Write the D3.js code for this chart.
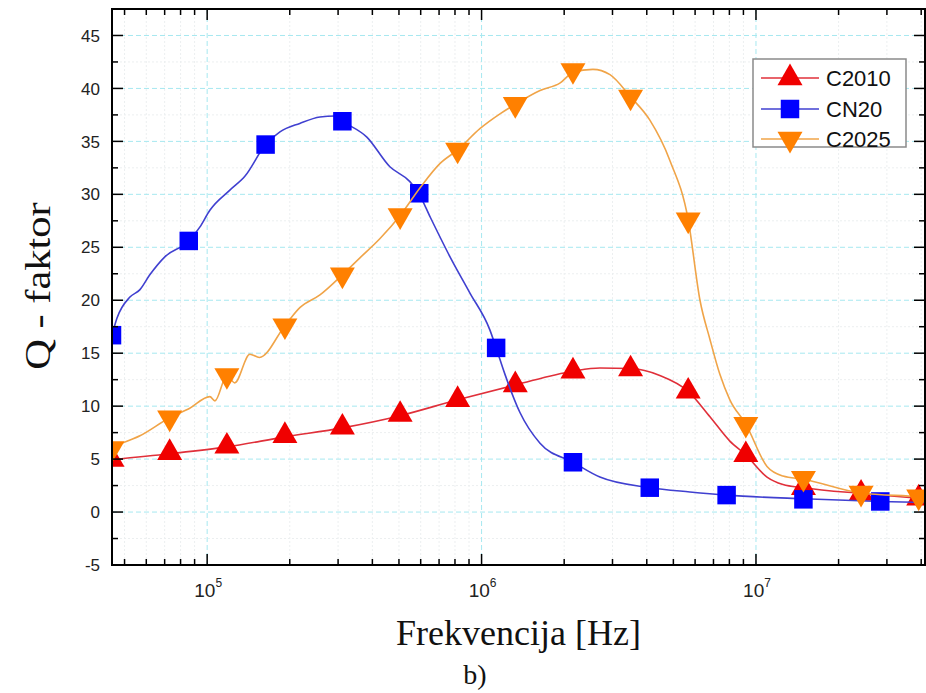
<!DOCTYPE html>
<html><head><meta charset="utf-8">
<script src="https://cdn.jsdelivr.net/npm/d3@7"></script>
<style>body{margin:0;background:#fff} svg{display:block}</style>
</head><body>
<script>
// ---------- data (frequency in Hz, Q-factor) ----------
const seriesNames = ["C2010", "CN20", "C2025"];

const markerFreqRO = [45000, 73000, 118000, 192000, 311000, 505000, 818000, 1327000, 2153000, 3491000, 5662000, 9183000, 14890000, 24150000, 39170000];
const c2010Markers = [4.95, 5.6, 6.2, 7.2, 8.0, 9.2, 10.6, 12.0, 13.3, 13.5, 11.4, 5.4, 2.3, 1.75, 1.3];
const c2025Markers = [6.0, 8.9, 12.9, 17.6, 22.4, 28.0, 34.2, 38.5, 41.7, 39.2, 27.6, 8.3, 3.2, 1.8, 1.45];

const markerFreqB = [45000, 85700, 163300, 311000, 592900, 1130000, 2153000, 4102000, 7816000, 14890000, 28380000];
const cn20Markers = [16.7, 25.6, 34.7, 36.9, 30.1, 15.5, 4.7, 2.3, 1.6, 1.2, 1.0];

const c2010Line = [[45000,4.95],[73000,5.5],[118000,6.15],[192000,7.1],[311000,7.95],[505000,9.1],[818000,10.6],[1327000,12.0],[2153000,13.3],[2699000,13.6],[3491000,13.55],[4463000,12.9],[5662000,11.4],[6797000,9.0],[8031000,6.7],[9183000,5.4],[10970000,3.3],[12540000,2.6],[14890000,2.3],[24150000,1.75],[39170000,1.3],[41300000,1.25]];
const cn20Line = [[45000,16.7],[46900,18.3],[52300,20.3],[56900,21.0],[61800,22.4],[70100,24.1],[85700,25.6],[94000,26.9],[102300,28.5],[121000,30.4],[137200,31.7],[163300,34.7],[184200,35.9],[217600,36.7],[257600,37.3],[292100,37.4],[311000,36.9],[381900,35.4],[463300,32.6],[548000,31.2],[592900,30.0],[648600,27.9],[767400,24.1],[906000,20.7],[1072000,17.2],[1130000,15.5],[1217000,13.0],[1380000,9.4],[1633000,6.5],[2153000,4.7],[2699000,3.3],[4102000,2.3],[5744000,1.9],[7816000,1.6],[14890000,1.25],[28380000,1.0],[41300000,0.9]];
const c2025Line = [[45000,6.0],[48100,6.4],[56900,7.2],[73000,8.9],[86400,9.8],[102300,10.9],[106700,10.5],[118000,12.9],[126000,12.2],[143100,14.9],[155000,14.6],[192000,17.6],[217600,19.3],[257600,20.5],[311000,22.4],[360300,24.0],[425700,25.8],[505000,28.0],[596000,30.6],[704700,32.9],[818000,34.2],[986000,36.2],[1167000,37.6],[1327000,38.5],[1633000,39.8],[1929000,40.5],[2153000,41.5],[2545000,41.8],[2937000,41.3],[3491000,39.2],[4105000,37.0],[4855000,33.2],[5662000,27.6],[6250000,20.0],[6797000,16.3],[7386000,13.0],[8031000,10.6],[9183000,8.3],[10970000,4.3],[12540000,3.4],[14890000,3.1],[24150000,1.8],[39170000,1.45],[41300000,1.4]];

const yTickValues = [-5, 0, 5, 10, 15, 20, 25, 30, 35, 40, 45];
const yMinorValues = [-2.5, 2.5, 7.5, 12.5, 17.5, 22.5, 27.5, 32.5, 37.5, 42.5];
const xDecades = [1e5, 1e6, 1e7];
const xTickExponents = ["5", "6", "7"];
const xLabel = "Frekvencija [Hz]";
const yLabel = "Q - faktor";
const subLabel = "b)";

// ---------- layout ----------
const W = 926, H = 693;
const L = 112, R = 925, T = 9, B = 565;
const x = d3.scaleLog().domain([45000, 41300000]).range([L, R]);
const y = d3.scaleLinear().domain([-5, 47.5]).range([B, T]);

const colors = {
  C2010: {line: "#e0303a", fill: "#f00000"},
  CN20:  {line: "#4040d0", fill: "#0000ff"},
  C2025: {line: "#f0a448", fill: "#ff8000"}
};

const svg = d3.select("body").append("svg").attr("width", W).attr("height", H);

svg.append("clipPath").attr("id", "clip").append("rect")
  .attr("x", L).attr("y", T).attr("width", R - L).attr("height", B - T);

const xMinor = [];
[1e4, 1e5, 1e6, 1e7].forEach(d => { for (let m = 2; m <= 9; m++) { const f = m * d; if (f >= 45000 && f <= 41300000) xMinor.push(f); } });

// faint minor grid
const grid = svg.append("g");
grid.selectAll(".gxm").data(xMinor).join("line")
  .attr("x1", d => x(d)).attr("x2", d => x(d)).attr("y1", T).attr("y2", B)
  .attr("stroke", "#eceff0").attr("stroke-width", 1).attr("stroke-dasharray", "2,2");
grid.selectAll(".gym").data(yMinorValues).join("line")
  .attr("x1", L).attr("x2", R).attr("y1", d => y(d)).attr("y2", d => y(d))
  .attr("stroke", "#eceff0").attr("stroke-width", 1).attr("stroke-dasharray", "2,2");
// major grid
grid.selectAll(".gx").data(xDecades).join("line")
  .attr("x1", d => x(d)).attr("x2", d => x(d)).attr("y1", T).attr("y2", B)
  .attr("stroke", "#a6e8f0").attr("stroke-width", 1).attr("stroke-dasharray", "5,3");
grid.selectAll(".gy").data(yTickValues.filter(v => v > -5)).join("line")
  .attr("x1", L).attr("x2", R).attr("y1", d => y(d)).attr("y2", d => y(d))
  .attr("stroke", "#a6e8f0").attr("stroke-width", 1).attr("stroke-dasharray", "5,3");

// ---------- series ----------
const plot = svg.append("g").attr("clip-path", "url(#clip)");
const lineGen = d3.line().x(d => x(d[0])).y(d => y(d[1])).curve(d3.curveMonotoneX);

const s = 25, h = s * Math.sqrt(3) / 2;
const upTri = `M0,${-2*h/3}L${s/2},${h/3}L${-s/2},${h/3}Z`;
const downTri = `M0,${2*h/3}L${s/2},${-h/3}L${-s/2},${-h/3}Z`;
const sq = 18.5;
const squarePath = `M${-sq/2},${-sq/2}h${sq}v${sq}h${-sq}Z`;
const shapes = {C2010: upTri, CN20: squarePath, C2025: downTri};

const series = [
  {name: "C2010", line: c2010Line, freqs: markerFreqRO, vals: c2010Markers},
  {name: "CN20", line: cn20Line, freqs: markerFreqB, vals: cn20Markers},
  {name: "C2025", line: c2025Line, freqs: markerFreqRO, vals: c2025Markers}
];

series.forEach(sr => {
  plot.append("path").datum(sr.line)
    .attr("d", lineGen).attr("fill", "none")
    .attr("stroke", colors[sr.name].line).attr("stroke-width", 1.6);
  plot.selectAll(null).data(sr.freqs.map((f, i) => [f, sr.vals[i]])).join("path")
    .attr("d", shapes[sr.name])
    .attr("transform", d => `translate(${x(d[0])},${y(d[1])})`)
    .attr("fill", colors[sr.name].fill);
});

// ---------- axes ----------
const ax = svg.append("g").attr("stroke", "#000");
const majLen = 11, minLen = 6;
ax.append("rect").attr("x", L).attr("y", T).attr("width", R - L).attr("height", B - T)
  .attr("fill", "none").attr("stroke-width", 2);
xDecades.forEach(d => {
  ax.append("line").attr("x1", x(d)).attr("x2", x(d)).attr("y1", B).attr("y2", B - majLen).attr("stroke-width", 1.5);
  ax.append("line").attr("x1", x(d)).attr("x2", x(d)).attr("y1", T).attr("y2", T + majLen).attr("stroke-width", 1.5);
});
xMinor.forEach(d => {
  ax.append("line").attr("x1", x(d)).attr("x2", x(d)).attr("y1", B).attr("y2", B - minLen).attr("stroke-width", 1.5);
  ax.append("line").attr("x1", x(d)).attr("x2", x(d)).attr("y1", T).attr("y2", T + minLen).attr("stroke-width", 1.5);
});
yTickValues.forEach(v => {
  ax.append("line").attr("x1", L).attr("x2", L + majLen).attr("y1", y(v)).attr("y2", y(v)).attr("stroke-width", 1.5);
  ax.append("line").attr("x1", R).attr("x2", R - majLen).attr("y1", y(v)).attr("y2", y(v)).attr("stroke-width", 1.5);
});
yMinorValues.forEach(v => {
  ax.append("line").attr("x1", L).attr("x2", L + minLen).attr("y1", y(v)).attr("y2", y(v)).attr("stroke-width", 1.5);
  ax.append("line").attr("x1", R).attr("x2", R - minLen).attr("y1", y(v)).attr("y2", y(v)).attr("stroke-width", 1.5);
});

// tick labels
const sans = "'Liberation Sans', Arial, sans-serif";
svg.selectAll(".yl").data(yTickValues).join("text")
  .attr("x", 100).attr("y", d => y(d)).attr("dy", "0.36em")
  .attr("text-anchor", "end").attr("font-family", sans).attr("font-size", 17)
  .attr("fill", "#222").text(d => d);

xDecades.forEach((d, i) => {
  const t = svg.append("text").attr("x", x(d) + 1).attr("y", 597)
    .attr("text-anchor", "middle").attr("font-family", sans).attr("font-size", 19).attr("fill", "#222");
  t.append("tspan").text("10");
  t.append("tspan").attr("font-size", 12).attr("dy", -10).text(xTickExponents[i]);
});

// axis titles
const serif = "'Liberation Serif', 'Times New Roman', serif";
svg.append("text").attr("x", (L + R) / 2).attr("y", 645).attr("text-anchor", "middle")
  .attr("font-family", serif).attr("font-size", 36).attr("fill", "#111").text(xLabel);
svg.append("text").attr("transform", `translate(50,${(T + B) / 2 - 1}) rotate(-90) scale(1.18,1)`)
  .attr("text-anchor", "middle").attr("font-family", serif).attr("font-size", 36)
  .attr("fill", "#111").text(yLabel);
svg.append("text").attr("x", 475).attr("y", 684).attr("text-anchor", "middle")
  .attr("font-family", serif).attr("font-size", 28).attr("fill", "#111").text(subLabel);

// ---------- legend ----------
const lg = svg.append("g");
lg.append("rect").attr("x", 753).attr("y", 59).attr("width", 153).attr("height", 88)
  .attr("fill", "#fff").attr("stroke", "#8a8a8a").attr("stroke-width", 1.5);
const rowY = [78, 109, 139];
seriesNames.forEach((n, i) => {
  lg.append("line").attr("x1", 761).attr("x2", 819).attr("y1", rowY[i]).attr("y2", rowY[i])
    .attr("stroke", colors[n].line).attr("stroke-width", 1.6);
  lg.append("path").attr("d", shapes[n]).attr("transform", `translate(790,${rowY[i]})`).attr("fill", colors[n].fill);
  lg.append("text").attr("x", 826).attr("y", rowY[i]).attr("dy", "0.36em")
    .attr("font-family", sans).attr("font-size", 22).attr("fill", "#111").text(n);
});
</script>
</body></html>
